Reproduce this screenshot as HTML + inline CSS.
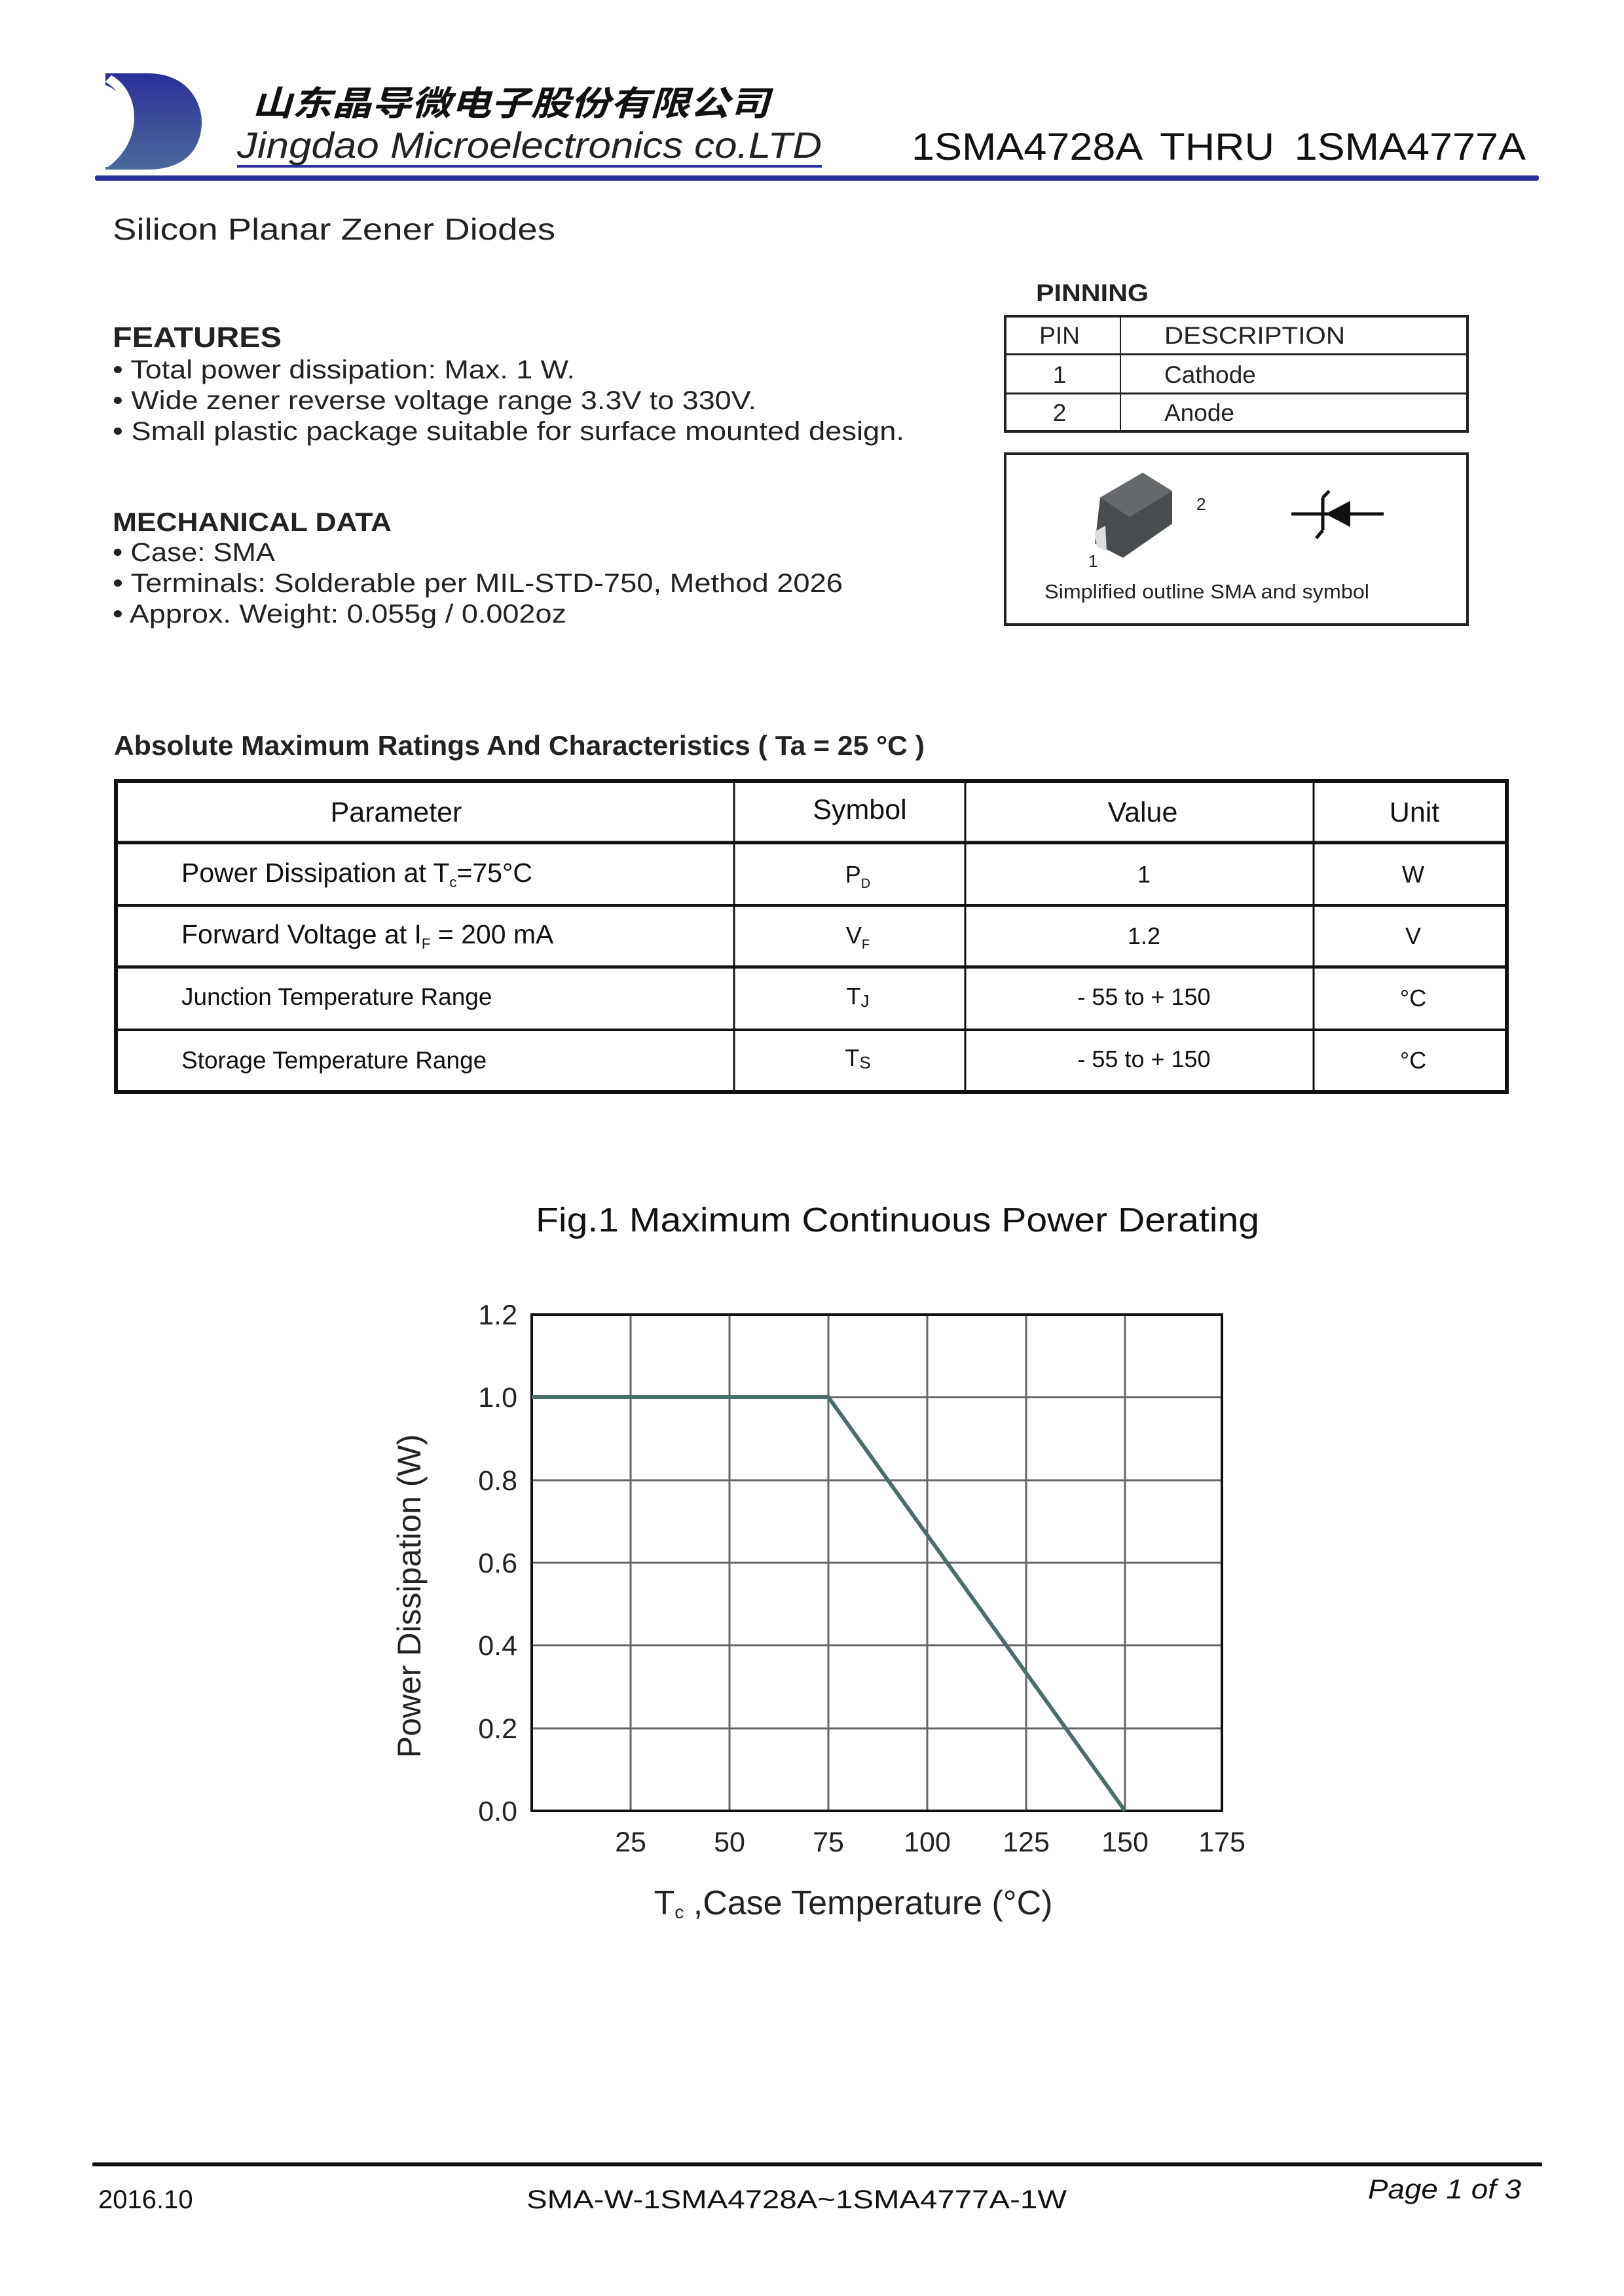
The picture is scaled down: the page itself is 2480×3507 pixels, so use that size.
<!DOCTYPE html>
<html><head><meta charset="utf-8"><style>html,body{margin:0;padding:0;background:#fff}svg{display:block}</style></head>
<body>
<svg width="2480" height="3507" viewBox="0 0 2480 3507" xmlns="http://www.w3.org/2000/svg" font-family="'Liberation Sans','Noto Sans CJK SC',sans-serif" fill="#222">
<defs><linearGradient id="lg" x1="0" y1="0" x2="0" y2="1"><stop offset="0" stop-color="#2b2f9a"/><stop offset="1" stop-color="#4a6a9a"/></linearGradient></defs>
<!-- logo -->
<path d="M161 112 L225 112 C290 112 308 160 308 186 C308 220 290 259 225 259 L161 259 L161 240 C205 225 215 150 161 130 Z" fill="url(#lg)"/>
<path d="M170 115 C215 140 220 215 165 255 L161 255 L161 240 C200 220 205 150 161 125 Z" fill="#fff"/>
<text x="385" y="176" font-size="52" font-style="italic" font-weight="bold" textLength="790" lengthAdjust="spacingAndGlyphs" fill="#111">山东晶导微电子股份有限公司</text>
<text x="362" y="241" font-size="56" font-style="italic" textLength="893" lengthAdjust="spacingAndGlyphs" fill="#222">Jingdao Microelectronics co.LTD</text>
<rect x="362" y="252" width="893" height="4" fill="#2b2f9a"/>
<text x="1392" y="244" font-size="58" textLength="938" lengthAdjust="spacingAndGlyphs" fill="#111" word-spacing="12">1SMA4728A THRU 1SMA4777A</text>
<rect x="145" y="268" width="2205" height="8" rx="3" fill="#2b2f9a"/>

<text x="172" y="366" font-size="46" textLength="676" lengthAdjust="spacingAndGlyphs">Silicon Planar Zener Diodes</text>
<text x="172" y="530" font-size="44" font-weight="bold" textLength="258" lengthAdjust="spacingAndGlyphs">FEATURES</text>
<g font-size="40">
<text x="172" y="578" textLength="706" lengthAdjust="spacingAndGlyphs">• Total power dissipation: Max. 1 W.</text>
<text x="172" y="625" textLength="983" lengthAdjust="spacingAndGlyphs">• Wide zener reverse voltage range 3.3V to 330V.</text>
<text x="172" y="672" textLength="1209" lengthAdjust="spacingAndGlyphs">• Small plastic package suitable for surface mounted design.</text>
</g>
<text x="172" y="811" font-size="40" font-weight="bold" textLength="426" lengthAdjust="spacingAndGlyphs">MECHANICAL DATA</text>
<g font-size="40">
<text x="172" y="857" textLength="248" lengthAdjust="spacingAndGlyphs">• Case: SMA</text>
<text x="172" y="904" textLength="1115" lengthAdjust="spacingAndGlyphs">• Terminals: Solderable per MIL-STD-750, Method 2026</text>
<text x="172" y="951" textLength="693" lengthAdjust="spacingAndGlyphs">• Approx. Weight: 0.055g / 0.002oz</text>
</g>

<!-- pinning -->
<text x="1582" y="460" font-size="37" font-weight="bold" textLength="172" lengthAdjust="spacingAndGlyphs">PINNING</text>
<g stroke="#222" fill="none">
<rect x="1535" y="483" width="706" height="176" stroke-width="4"/>
<line x1="1535" y1="541" x2="2241" y2="541" stroke-width="3"/>
<line x1="1535" y1="601" x2="2241" y2="601" stroke-width="3"/>
<line x1="1711" y1="483" x2="1711" y2="659" stroke-width="2"/>
<rect x="1535" y="693" width="706" height="261" stroke-width="4"/>
</g>
<g font-size="37">
<text x="1618" y="525" text-anchor="middle">PIN</text>
<text x="1778" y="525" textLength="276" lengthAdjust="spacingAndGlyphs">DESCRIPTION</text>
<text x="1618" y="585" text-anchor="middle">1</text>
<text x="1778" y="585">Cathode</text>
<text x="1618" y="643" text-anchor="middle">2</text>
<text x="1778" y="643">Anode</text>
</g>
<!-- component -->
<path d="M1680 760 L1745 722 L1790 750 L1790 800 L1715 852 L1672 830 Z" fill="#4a4d4f"/>
<path d="M1680 760 L1745 722 L1790 750 L1725 790 Z" fill="#66696b"/>
<path d="M1672 812 L1688 803 L1690 842 L1675 835 Z" fill="#ddd"/>
<text x="1827" y="779" font-size="26">2</text>
<text x="1662" y="866" font-size="26">1</text>
<g stroke="#111" stroke-width="5" fill="none">
<line x1="1972" y1="785" x2="2113" y2="785"/>
<path d="M2020 760 L2020 810 M2020 760 L2030 750 M2020 810 L2010 822"/>
</g>
<path d="M2062 765 L2062 805 L2024 785 Z" fill="#111"/>
<text x="1595" y="914" font-size="31" textLength="496" lengthAdjust="spacingAndGlyphs">Simplified outline SMA and symbol</text>

<!-- ratings -->
<text x="174" y="1153" font-size="42" font-weight="bold" textLength="1238" lengthAdjust="spacingAndGlyphs">Absolute Maximum Ratings And Characteristics  ( Ta = 25 °C )</text>
<g stroke="#111" fill="none">
<rect x="177" y="1193" width="2124" height="475" stroke-width="6"/>
<line x1="177" y1="1287" x2="2301" y2="1287" stroke-width="5"/>
<line x1="177" y1="1383" x2="2301" y2="1383" stroke-width="4"/>
<line x1="177" y1="1477" x2="2301" y2="1477" stroke-width="5"/>
<line x1="177" y1="1573" x2="2301" y2="1573" stroke-width="4"/>
<line x1="1121" y1="1193" x2="1121" y2="1668" stroke-width="3"/>
<line x1="1474" y1="1193" x2="1474" y2="1668" stroke-width="3"/>
<line x1="2006" y1="1193" x2="2006" y2="1668" stroke-width="3"/>
</g>
<g font-size="43" text-anchor="middle" fill="#111">
<text x="605" y="1255">Parameter</text>
<text x="1313" y="1251">Symbol</text>
<text x="1745" y="1255">Value</text>
<text x="2160" y="1255">Unit</text>
</g>
<g font-size="41" fill="#111">
<text x="277" y="1347">Power Dissipation at T<tspan font-size="22" dy="8">c</tspan><tspan dy="-8">=75°C</tspan></text>
<text x="277" y="1441">Forward Voltage at I<tspan font-size="22" dy="8">F</tspan><tspan dy="-8"> = 200 mA</tspan></text>
<text x="277" y="1535" font-size="37">Junction Temperature Range</text>
<text x="277" y="1632" font-size="37">Storage Temperature Range</text>
</g>
<g font-size="36" text-anchor="middle" fill="#111">
<text x="1310" y="1348">P<tspan font-size="20" dy="8">D</tspan></text>
<text x="1310" y="1441">V<tspan font-size="20" dy="8">F</tspan></text>
<text x="1310" y="1534">T<tspan font-size="26" dy="4">J</tspan></text>
<text x="1310" y="1628">T<tspan font-size="26" dy="4">S</tspan></text>
<text x="1747" y="1348">1</text>
<text x="1747" y="1442">1.2</text>
<text x="1747" y="1535">- 55 to + 150</text>
<text x="1747" y="1630">- 55 to + 150</text>
<text x="2158" y="1348">W</text>
<text x="2158" y="1442">V</text>
<text x="2158" y="1537">°C</text>
<text x="2158" y="1632">°C</text>
</g>

<!-- chart -->
<text x="818" y="1881" font-size="52" textLength="1105" lengthAdjust="spacingAndGlyphs" fill="#111">Fig.1  Maximum Continuous Power Derating</text>
<g stroke="#666" stroke-width="3">
<line x1="963" y1="2008" x2="963" y2="2766"/><line x1="1114" y1="2008" x2="1114" y2="2766"/>
<line x1="1265" y1="2008" x2="1265" y2="2766"/><line x1="1416" y1="2008" x2="1416" y2="2766"/>
<line x1="1567" y1="2008" x2="1567" y2="2766"/><line x1="1718" y1="2008" x2="1718" y2="2766"/>
<line x1="812" y1="2134" x2="1866" y2="2134"/><line x1="812" y1="2261" x2="1866" y2="2261"/>
<line x1="812" y1="2387" x2="1866" y2="2387"/><line x1="812" y1="2513" x2="1866" y2="2513"/>
<line x1="812" y1="2640" x2="1866" y2="2640"/>
</g>
<rect x="812" y="2008" width="1054" height="758" fill="none" stroke="#111" stroke-width="4"/>
<polyline points="812,2134 1265,2134 1718,2766" fill="none" stroke="#4b6e6c" stroke-width="6"/>
<g font-size="43" text-anchor="end" fill="#222">
<text x="790" y="2023">1.2</text><text x="790" y="2149">1.0</text><text x="790" y="2276">0.8</text>
<text x="790" y="2402">0.6</text><text x="790" y="2528">0.4</text><text x="790" y="2655">0.2</text>
<text x="790" y="2781">0.0</text>
</g>
<g font-size="43" text-anchor="middle" fill="#222">
<text x="963" y="2828">25</text><text x="1114" y="2828">50</text><text x="1265" y="2828">75</text>
<text x="1416" y="2828">100</text><text x="1567" y="2828">125</text><text x="1718" y="2828">150</text>
<text x="1866" y="2828">175</text>
</g>
<text transform="translate(642,2438) rotate(-90)" font-size="50" text-anchor="middle" fill="#222">Power Dissipation (W)</text>
<text x="1303" y="2924" font-size="52" text-anchor="middle" fill="#222">T<tspan font-size="28" dy="6">c</tspan><tspan dy="-6"> ,Case Temperature (°C)</tspan></text>

<!-- footer -->
<rect x="141" y="3303" width="2214" height="6" rx="2" fill="#111"/>
<text x="150" y="3373" font-size="40" fill="#111">2016.10</text>
<text x="804" y="3373" font-size="40" textLength="825" lengthAdjust="spacingAndGlyphs" fill="#111">SMA-W-1SMA4728A~1SMA4777A-1W</text>
<text x="2089" y="3358" font-size="42" font-style="italic" textLength="234" lengthAdjust="spacingAndGlyphs" fill="#111">Page 1 of 3</text>
</svg>
</body></html>
